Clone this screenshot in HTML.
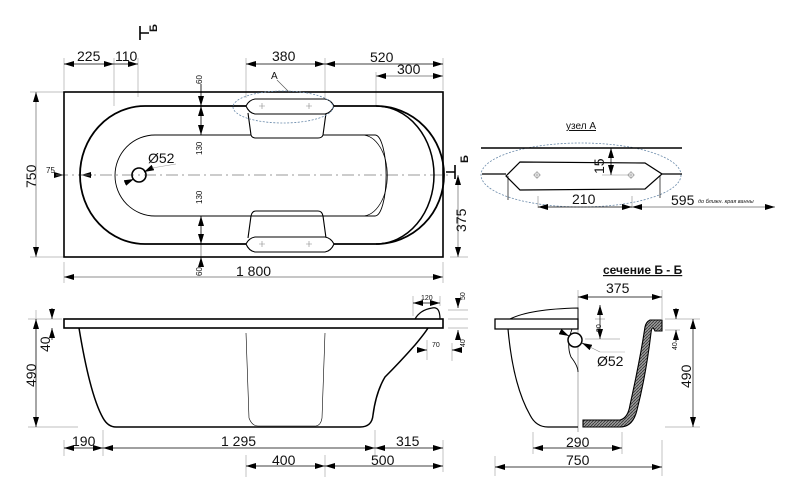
<!DOCTYPE html>
<html><head><meta charset="utf-8"><style>
html,body{margin:0;padding:0;background:#fff;}
svg{display:block;}
text{font-family:"Liberation Sans",sans-serif;fill:#111;}
</style></head><body>
<svg width="800" height="499" viewBox="0 0 800 499" xmlns="http://www.w3.org/2000/svg">
<defs>
<marker id="a" viewBox="0 0 10 6" refX="10" refY="3" markerWidth="10" markerHeight="6" orient="auto-start-reverse" markerUnits="userSpaceOnUse"><path d="M0,0L10,3L0,6z" fill="#000"/></marker>
<pattern id="h" width="3" height="3" patternUnits="userSpaceOnUse"><rect width="3" height="3" fill="#999"/><path d="M0,3L3,0" stroke="#333" stroke-width="0.8"/></pattern>
</defs>
<g stroke="#aaa" stroke-width="0.7" fill="none">
<line x1="64" y1="58" x2="64" y2="90"/><line x1="114" y1="58" x2="114" y2="106"/><line x1="138" y1="58" x2="138" y2="97"/>
<line x1="246" y1="58" x2="246" y2="98"/><line x1="325" y1="58" x2="325" y2="98"/><line x1="443" y1="58" x2="443" y2="90"/>
<line x1="376" y1="72" x2="376" y2="106"/>
<line x1="30" y1="92" x2="64" y2="92"/><line x1="30" y1="257" x2="64" y2="257"/>
<line x1="64" y1="262" x2="64" y2="283"/><line x1="443" y1="262" x2="443" y2="283"/>
<line x1="450" y1="257" x2="468" y2="257"/>
</g>
<g stroke="#666" stroke-width="0.7" fill="none">
<line x1="376" y1="76" x2="443" y2="76" marker-start="url(#a)" marker-end="url(#a)"/>
<line x1="36" y1="92" x2="36" y2="257" marker-start="url(#a)" marker-end="url(#a)"/>
<line x1="64" y1="277" x2="443" y2="277" marker-start="url(#a)" marker-end="url(#a)"/>
<line x1="458" y1="175" x2="458" y2="257" marker-start="url(#a)" marker-end="url(#a)"/>
<line x1="201" y1="84" x2="201" y2="135"/><line x1="201" y1="216" x2="201" y2="266"/>
</g>
<g fill="none" stroke="#000" stroke-width="0.7">
<line x1="64" y1="64" x2="114" y2="64" marker-start="url(#a)" marker-end="url(#a)"/>
<line x1="114" y1="64" x2="138" y2="64" marker-end="url(#a)"/>
<line x1="246" y1="64" x2="325" y2="64" marker-start="url(#a)" marker-end="url(#a)"/>
<line x1="325" y1="64" x2="443" y2="64" marker-start="url(#a)" marker-end="url(#a)"/>
<line x1="201" y1="84" x2="201" y2="106" marker-end="url(#a)"/>
<line x1="201" y1="106" x2="201" y2="135" marker-start="url(#a)" marker-end="url(#a)"/>
<line x1="201" y1="216" x2="201" y2="244" marker-start="url(#a)" marker-end="url(#a)"/>
<line x1="201" y1="266" x2="201" y2="257" marker-end="url(#a)"/>
<line x1="54" y1="175" x2="64" y2="175" marker-end="url(#a)"/>
<line x1="92" y1="175" x2="81" y2="175" marker-end="url(#a)"/>
</g>
<line x1="56" y1="175" x2="448" y2="175" stroke="#777" stroke-width="0.7" stroke-dasharray="12,4,2,4"/>
<rect x="64" y="92" width="379" height="165" fill="none" stroke="#000" stroke-width="1.6"/>
<path d="M145,106 L376,106 A68,69 0 0 1 376,244 L145,244 A65,69 0 0 1 145,106Z" fill="none" stroke="#000" stroke-width="1.8"/>
<path d="M376,106 A58,69 0 0 1 376,244" fill="none" stroke="#000" stroke-width="1.5"/>
<path d="M155,135 L375,135 A11,40 0 0 1 375,216 L155,216 A40,40.5 0 0 1 155,135Z" fill="none" stroke="#000" stroke-width="0.9"/>
<path d="M362,135 A25,40 0 0 1 362,216" fill="none" stroke="#000" stroke-width="0.7"/>
<circle cx="139" cy="175" r="7" fill="none" stroke="#000" stroke-width="1.6"/>
<line x1="125" y1="183" x2="134" y2="179" stroke="#000" stroke-width="0.8" marker-end="url(#a)"/>
<line x1="152" y1="168" x2="144" y2="172" stroke="#000" stroke-width="0.8" marker-end="url(#a)"/>
<line x1="152" y1="168" x2="176" y2="164" stroke="#999" stroke-width="0.6"/>
<g fill="#fff" stroke="#000" stroke-width="1.1">
<path d="M248,113 L251,135 Q252,138 256,138 L318,138 Q322,138 323,135 L326,113"/>
<path d="M255,99 L325,99 Q331,100 334,106 Q331,113 325,114 L255,114 Q249,113 246,106 Q249,100 255,99Z"/>
<path d="M251,216 L248,238 M323,216 L326,238 M251,216 Q252,211 256,211 L318,211 Q322,211 323,216" fill="none"/>
<path d="M255,237 L325,237 Q331,238 334,244 Q331,251 325,252 L255,252 Q249,251 246,244 Q249,238 255,237Z"/>
</g>
<g stroke="#888" stroke-width="0.6"><path d="M259,106h6M262,103v6M306,106h6M309,103v6M259,244h6M262,241v6M306,244h6M309,241v6"/></g>
<ellipse cx="283" cy="107" rx="50" ry="16" fill="none" stroke="#6a8aaa" stroke-width="0.8" stroke-dasharray="2,1.5"/>
<line x1="277" y1="80" x2="289" y2="92" stroke="#555" stroke-width="0.6"/>
<path d="M140,26v14M140,33h9" stroke="#000" stroke-width="1.6" fill="none"/>
<path d="M455,165v14M455,172h-9" stroke="#000" stroke-width="1.6" fill="none"/>
<text x="157" y="32" font-size="11" font-weight="bold" transform="rotate(-90 157 32)">Б</text>
<text x="468" y="163" font-size="11" font-weight="bold" transform="rotate(-90 468 163)">Б</text>
<g font-size="14">
<text x="77" y="61">225</text><text x="115" y="61">110</text><text x="272" y="61">380</text><text x="370" y="62">520</text><text x="397" y="74">300</text>
<text x="271" y="79" font-size="10">A</text>
<text x="148" y="163" font-size="14">Ø52</text>
<text x="236" y="276">1 800</text>
<text x="36" y="188" transform="rotate(-90 36 188)">750</text>
<text x="466" y="232" transform="rotate(-90 466 232)">375</text>
</g>
<g font-size="8">
<text x="46" y="173">75</text>
<text x="202" y="84" transform="rotate(-90 202 84)">60</text>
<text x="202" y="155" transform="rotate(-90 202 155)">130</text>
<text x="202" y="204" transform="rotate(-90 202 204)">130</text>
<text x="202" y="276" transform="rotate(-90 202 276)">60</text>
</g>
<ellipse cx="581" cy="175" rx="100" ry="32" fill="none" stroke="#6a8aaa" stroke-width="0.8" stroke-dasharray="2,1.5"/>
<line x1="481" y1="148" x2="682" y2="148" stroke="#000" stroke-width="1.5"/>
<line x1="482" y1="174" x2="506" y2="174" stroke="#000" stroke-width="1.2"/><line x1="662" y1="174" x2="682" y2="174" stroke="#000" stroke-width="1.2"/>
<path d="M520,162 L645,163 L662,174 L645,189 L520,190 L506,176 Z" fill="#fff" stroke="#000" stroke-width="1.2"/>
<path d="M508,176v24M660,176v22" stroke="#000" stroke-width="0.7"/>
<g stroke="#888" stroke-width="0.6" fill="none"><circle cx="537" cy="175" r="2.5"/><circle cx="631" cy="175" r="2.5"/><path d="M533,175h8M537,171v8M627,175h8M631,171v8"/></g>
<line x1="611" y1="148" x2="611" y2="175" stroke="#000" stroke-width="0.8" marker-start="url(#a)" marker-end="url(#a)"/>
<line x1="602" y1="175" x2="630" y2="175" stroke="#888" stroke-width="0.6"/>
<path d="M538,196v12M632,196v12" stroke="#888" stroke-width="0.6"/>
<line x1="538" y1="207" x2="632" y2="207" stroke="#000" stroke-width="0.8" marker-start="url(#a)" marker-end="url(#a)"/>
<line x1="632" y1="207" x2="775" y2="207" stroke="#666" stroke-width="0.7" marker-start="url(#a)" marker-end="url(#a)"/>
<text x="566" y="129" font-size="10" text-decoration="underline">узел А</text>
<text x="604" y="174" font-size="14" transform="rotate(-90 604 174)">15</text>
<text x="572" y="204" font-size="14">210</text>
<text x="671" y="205" font-size="14">595</text>
<text x="698" y="203" font-size="5.5" font-style="italic">до ближн. края ванны</text>
<rect x="64" y="319" width="379" height="9" fill="#fff" stroke="#000" stroke-width="1.6"/>
<path d="M79,328 Q90,395 103,418 Q108,427 116,427 L360,427 Q372,427 373,415 Q376,392 385,377 Q400,362 415,345 Q425,333 428,328" fill="none" stroke="#000" stroke-width="1.5"/>
<path d="M415,319 Q420,310 432,308 Q440,306 440,319" fill="none" stroke="#000" stroke-width="1.2"/>
<path d="M246,333 L249,418 Q252,426 258,426 L316,426 Q321,425 322,418 L325,333" fill="none" stroke="#000" stroke-width="0.6"/>
<g stroke="#aaa" stroke-width="0.7">
<path d="M28,319h34M28,427h50M36,310v50M64,440v16M103,430v26M375,430v26M443,440v32M246,455v22M325,455v22M413,296v20M440,296v10M448,310h20M448,319h20M448,328h20M427,340v20M452,343v18"/>
</g>
<g stroke="#000" stroke-width="0.7" fill="none">
<line x1="36" y1="319" x2="36" y2="427" marker-start="url(#a)" marker-end="url(#a)"/>
<line x1="52" y1="308" x2="52" y2="319" marker-end="url(#a)"/><line x1="52" y1="340" x2="52" y2="328" marker-end="url(#a)"/>
<line x1="64" y1="448" x2="103" y2="448" marker-start="url(#a)" marker-end="url(#a)"/>
<line x1="103" y1="448" x2="375" y2="448" marker-start="url(#a)" marker-end="url(#a)"/>
<line x1="375" y1="448" x2="443" y2="448" marker-start="url(#a)" marker-end="url(#a)"/>
<line x1="246" y1="466" x2="325" y2="466" marker-start="url(#a)" marker-end="url(#a)"/>
<line x1="325" y1="466" x2="443" y2="466" marker-start="url(#a)" marker-end="url(#a)"/>
<line x1="413" y1="303" x2="440" y2="303" marker-start="url(#a)" marker-end="url(#a)"/>
<line x1="458" y1="298" x2="458" y2="308" marker-end="url(#a)"/><line x1="458" y1="340" x2="458" y2="330" marker-end="url(#a)"/>
<line x1="418" y1="350" x2="427" y2="350" marker-end="url(#a)"/><line x1="462" y1="350" x2="452" y2="350" marker-end="url(#a)"/>
</g>
<g font-size="14">
<text x="36" y="387" transform="rotate(-90 36 387)">490</text>
<text x="50" y="352" transform="rotate(-90 50 352)">40</text>
<text x="72" y="446">190</text><text x="221" y="446">1 295</text><text x="396" y="446">315</text>
<text x="272" y="465">400</text><text x="371" y="465">500</text>
</g>
<g font-size="7"><text x="421" y="300">120</text><text x="465" y="300" transform="rotate(-90 465 300)">50</text><text x="465" y="347" transform="rotate(-90 465 347)">40</text><text x="432" y="347">70</text></g>
<text x="603" y="274" font-size="12" font-weight="bold" text-decoration="underline">сечение Б - Б</text>
<path d="M578,296v136" stroke="#888" stroke-width="0.7"/>
<path d="M495,319 L578,319 L578,329 L495,329Z" fill="#fff" stroke="#000" stroke-width="1.3"/>
<path d="M510,319 Q530,309 578,308 L578,319" fill="none" stroke="#000" stroke-width="1"/>
<path d="M508,329 Q513,385 530,415 Q536,427 548,427 L578,427" fill="none" stroke="#000" stroke-width="1.2"/>
<path d="M572,329 Q566,345 571,357 Q578,366 578,372" fill="none" stroke="#000" stroke-width="0.9"/>
<path d="M583,420 L620,420 Q628,418 630,405 Q640,360 645,327 Q646,322 650,320 L662,320 L662,331 L655,331 Q652,324 651,333 Q646,375 637,410 Q633,427 620,427 L583,427Z" fill="url(#h)" stroke="#000" stroke-width="1.1"/>
<circle cx="575" cy="340" r="7" fill="#fff" stroke="#000" stroke-width="1.5"/>
<line x1="563" y1="333" x2="569" y2="336" stroke="#000" stroke-width="0.7" marker-end="url(#a)"/>
<line x1="590" y1="347" x2="582" y2="343" stroke="#000" stroke-width="0.7" marker-end="url(#a)"/>
<line x1="590" y1="347" x2="600" y2="352" stroke="#888" stroke-width="0.6"/>
<line x1="600" y1="352" x2="625" y2="352" stroke="#aaa" stroke-width="0.6"/>
<g stroke="#aaa" stroke-width="0.7"><path d="M578,290v10M662,290v30M585,339h35M595,319h10M665,319h35M665,330h15M665,427h35M533,432v22M622,432v22M495,456v20M662,440v36"/></g>
<g stroke="#000" stroke-width="0.7" fill="none">
<line x1="578" y1="297" x2="662" y2="297" marker-start="url(#a)" marker-end="url(#a)"/>
<line x1="600" y1="305" x2="600" y2="339" marker-start="url(#a)" marker-end="url(#a)"/>
<line x1="676" y1="308" x2="676" y2="319" marker-end="url(#a)"/><line x1="676" y1="342" x2="676" y2="330" marker-end="url(#a)"/>
<line x1="693" y1="319" x2="693" y2="427" marker-start="url(#a)" marker-end="url(#a)"/>
<line x1="533" y1="448" x2="622" y2="448" marker-start="url(#a)" marker-end="url(#a)"/>
<line x1="495" y1="467" x2="662" y2="467" marker-start="url(#a)" marker-end="url(#a)"/>
</g>
<g font-size="14">
<text x="606" y="293">375</text>
<text x="597" y="366">Ø52</text>
<text x="691" y="388" transform="rotate(-90 691 388)">490</text>
<text x="566" y="447">290</text><text x="566" y="465">750</text>
</g>
<g font-size="7"><text x="601" y="332" transform="rotate(-90 601 332)">90</text><text x="677" y="350" transform="rotate(-90 677 350)">40</text></g>
</svg>
</body></html>
